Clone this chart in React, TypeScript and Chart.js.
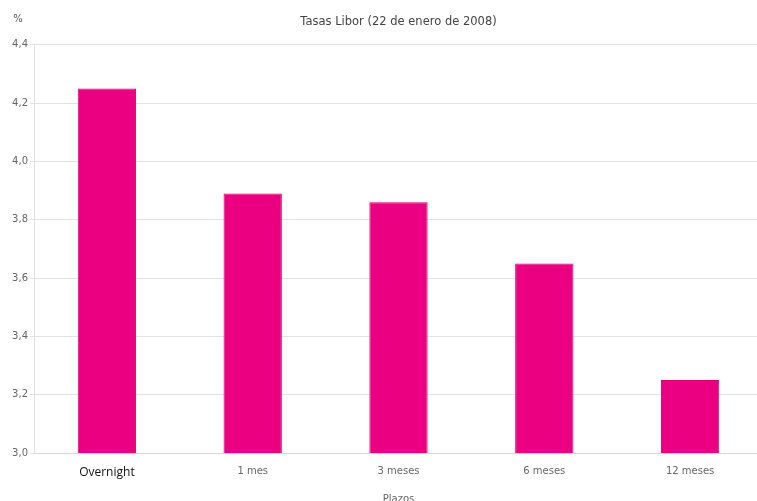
import React, { useEffect, useRef } from "react";
import { Chart, registerables } from "chart.js";

Chart.register(...registerables);

const categories = ["Overnight", "1 mes", "3 meses", "6 meses", "12 meses"];
const tasas = [4.25, 3.89, 3.86, 3.65, 3.25];
const yTicks = [3.0, 3.2, 3.4, 3.6, 3.8, 4.0, 4.2, 4.4];
const titleText = "Tasas Libor (22 de enero de 2008)";
const xTitle = "Plazos";
const yUnit = "%";

const FONT = "'DejaVu Sans', 'Noto Sans', sans-serif";

const unitPlugin = {
  id: "unitLabel",
  afterDraw(chart: any) {
    const ctx = chart.ctx;
    ctx.save();
    ctx.font = `10px ${FONT}`;
    ctx.fillStyle = "#555";
    ctx.textAlign = "center";
    ctx.textBaseline = "middle";
    ctx.fillText(yUnit, 18, 19);
    ctx.restore();
  },
};

export default function App() {
  const ref = useRef<HTMLCanvasElement | null>(null);

  useEffect(() => {
    if (!ref.current) return;
    const chart = new Chart(ref.current, {
      type: "bar",
      data: {
        labels: categories,
        datasets: [
          {
            label: "Tasas",
            data: tasas,
            backgroundColor: "#ea0080",
            borderColor: "#d5006f",
            borderWidth: 1,
            barPercentage: 0.4,
            categoryPercentage: 1,
          },
        ],
      },
      options: {
        responsive: false,
        animation: false,
        devicePixelRatio: 1,
        layout: { padding: 0 },
        plugins: {
          legend: { display: false },
          tooltip: { enabled: false },
          title: {
            display: true,
            fullSize: false,
            text: titleText,
            color: "#444",
            font: { size: 11.5, family: FONT, weight: "normal" },
            padding: { top: 15, bottom: 16 },
          },
        },
        scales: {
          x: {
            afterFit: (s: any) => {
              s.height = 51;
            },
            grid: { display: false, drawTicks: false },
            border: { display: true, color: "#d6d6d6" },
            ticks: {
              padding: 12,
              color: (c: any) => (c.index === 0 ? "#111" : "#666"),
              font: (c: any) =>
                c.index === 0
                  ? { size: 12, family: "'Open Sans', sans-serif" }
                  : { size: 10, family: FONT },
            },
            title: {
              display: true,
              text: xTitle,
              color: "#666",
              font: { size: 10, family: FONT },
              padding: { top: 0, bottom: -1 },
            },
          },
          y: {
            min: 3.0,
            max: 4.4,
            afterFit: (s: any) => {
              s.width = 34;
            },
            afterBuildTicks: (s: any) => {
              s.ticks = yTicks.map((v) => ({ value: v }));
            },
            grid: { color: "#e2e2e2", tickLength: 4 },
            border: { display: true, color: "#e0e0e0" },
            ticks: {
              padding: 2,
              color: "#666",
              font: { size: 10, family: FONT },
              callback: (v: any) => Number(v).toFixed(1).replace(".", ","),
            },
          },
        },
      },
      plugins: [unitPlugin],
    });
    return () => chart.destroy();
  }, []);

  return (
    <div
      style={{
        position: "fixed",
        left: 0,
        top: 0,
        width: 757,
        height: 501,
        overflow: "hidden",
        background: "#fff",
      }}
    >
      <canvas ref={ref} width={763} height={504} style={{ display: "block" }} />
    </div>
  );
}
